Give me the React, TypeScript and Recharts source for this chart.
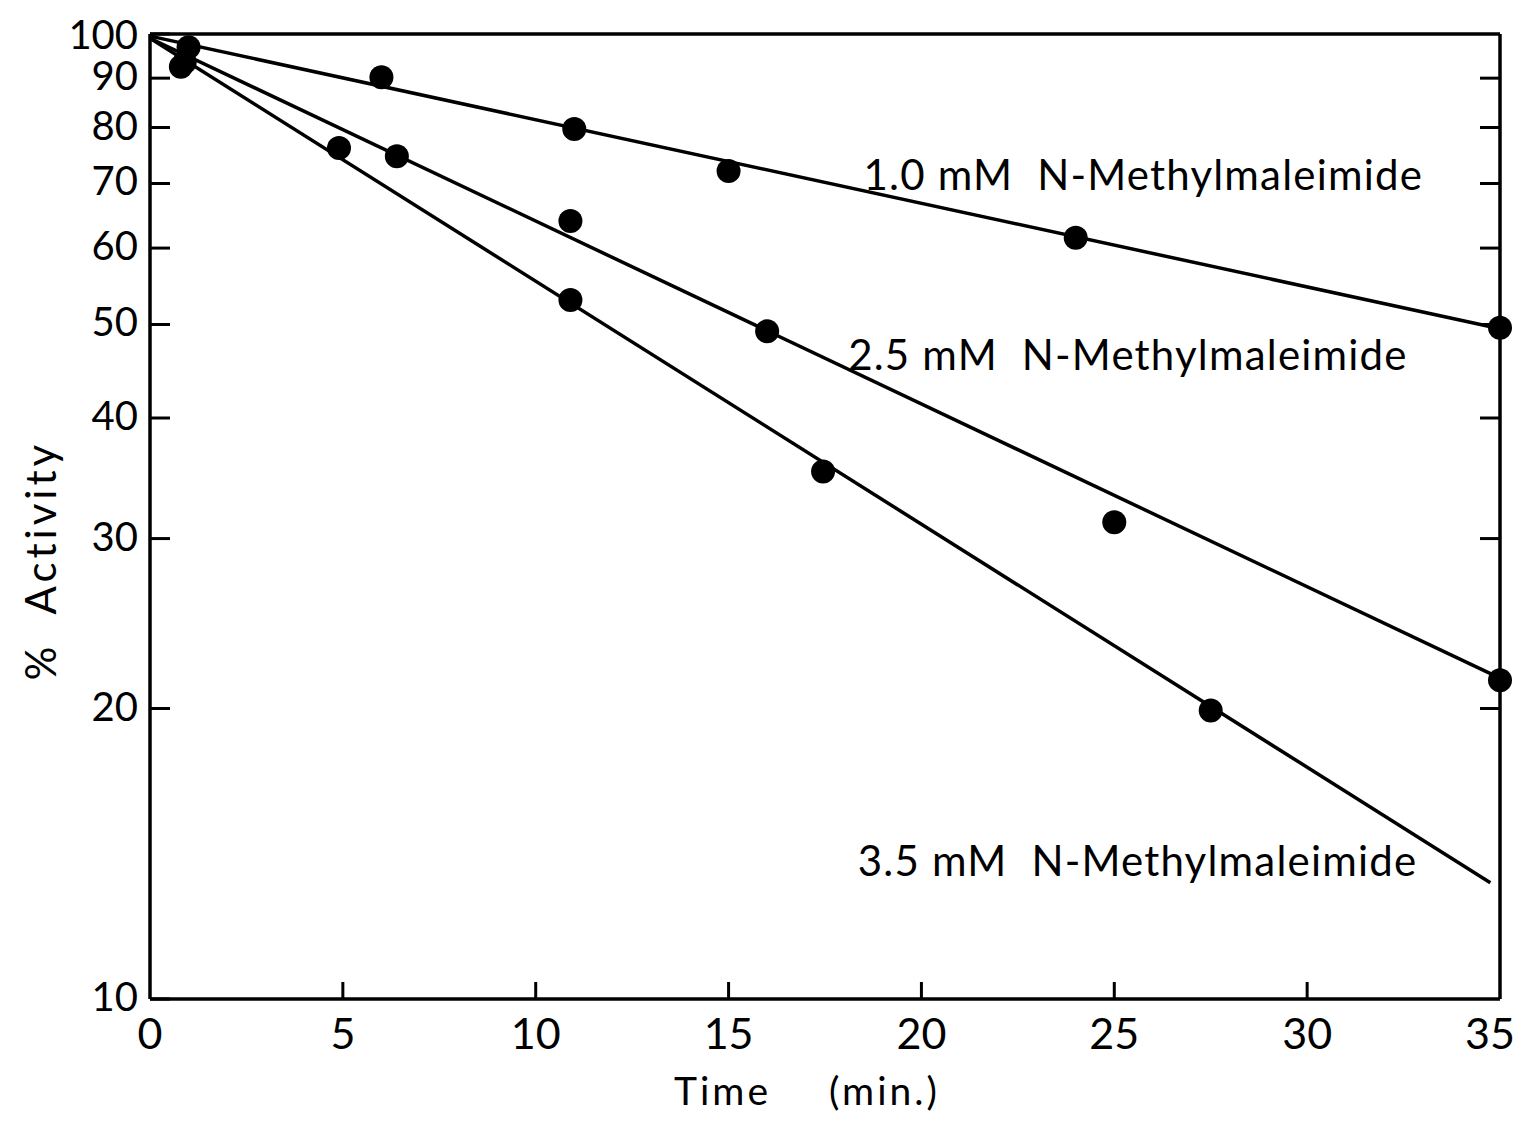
import {
  ComposedChart,
  Line,
  Scatter,
  XAxis,
  YAxis,
  ReferenceDot,
} from "recharts";

// measured points (time in min, % activity)
const t10 = [1, 6, 11, 15, 24, 35];
const a10 = [96.9, 90.2, 79.7, 72.1, 61.5, 49.6];

const t25 = [0.9, 6.4, 10.9, 16, 25, 35];
const a25 = [93.5, 74.7, 64.0, 49.2, 31.2, 21.4];

const t35 = [0.8, 4.9, 10.9, 17.45, 27.5];
const a35 = [92.5, 76.2, 53.0, 35.2, 19.9];

// fitted lines (end points)
const fit10 = [{ t: 0, a: 99.5 }, { t: 35, a: 49.5 }];
const fit25 = [{ t: 0, a: 99 }, { t: 35, a: 21.5 }];
const fit35 = [{ t: 0, a: 99 }, { t: 34.75, a: 13.2 }];

const xTicks = [0, 5, 10, 15, 20, 25, 30, 35];
const yTicks = [10, 20, 30, 40, 50, 60, 70, 80, 90, 100];
const innerX = [5, 10, 15, 20, 25, 30];
const innerY = [20, 30, 40, 50, 60, 70, 80, 90];

const labels = [
  { t: 18.5, a: 71.4, text: "1.0 mM\u00a0 N-Methylmaleimide" },
  { t: 18.1, a: 46.5, text: "2.5 mM\u00a0 N-Methylmaleimide" },
  { t: 18.35, a: 13.9, text: "3.5 mM\u00a0 N-Methylmaleimide" },
];

const toPts = (ts: number[], as: number[]) => ts.map((t, i) => ({ t, a: as[i] }));

const FONT = "Lato, 'DejaVu Sans', sans-serif";
const INK = "#000";

const Dot = (props: any) => <circle cx={props.cx} cy={props.cy} r={12} fill={INK} />;

const LeftTick = ({ x, y, payload }: any) => (
  <g>
    <line x1={x} x2={x + 20} y1={y} y2={y} stroke={INK} strokeWidth={3} />
    <text
      x={x - 12}
      y={y}
      dy={payload.value === 100 ? 0 : -3}
      textAnchor="end"
      dominantBaseline="central"
      fontSize={40}
      fontFamily={FONT}
      fill={INK}
    >
      {payload.value}
    </text>
  </g>
);

const RightTick = ({ x, y }: any) => (
  <line x1={x} x2={x - 20} y1={y} y2={y} stroke={INK} strokeWidth={3} />
);

const BottomTick = ({ x, y, payload }: any) => {
  const last = payload.value === 35;
  return (
    <g>
      {payload.value > 0 && !last && (
        <line x1={x} x2={x} y1={y} y2={y - 17} stroke={INK} strokeWidth={3} />
      )}
      <text
        x={last ? x + 15 : x}
        y={y + 33}
        textAnchor={last ? "end" : "middle"}
        dominantBaseline="central"
        fontSize={43}
        fontFamily={FONT}
        fill={INK}
      >
        {payload.value}
      </text>
    </g>
  );
};

const TopTick = ({ x, y }: any) => (
  <line x1={x} x2={x} y1={y} y2={y + 17} stroke={INK} strokeWidth={3} />
);

const YTitle = ({ viewBox }: any) => {
  const cx = viewBox.x + 32;
  const cy = viewBox.y + viewBox.height / 2 + 44;
  return (
    <text
      x={cx}
      y={cy}
      transform={`rotate(-90 ${cx} ${cy})`}
      textAnchor="middle"
      dominantBaseline="central"
      fontSize={42}
      letterSpacing={4}
      fontFamily={FONT}
      fill={INK}
    >
      %&nbsp; Activity
    </text>
  );
};

const XTitle = ({ viewBox }: any) => (
  <text
    x={viewBox.x + viewBox.width / 2 - 18}
    y={viewBox.y + 91}
    textAnchor="middle"
    dominantBaseline="central"
    fontSize={39}
    letterSpacing={3}
    fontFamily={FONT}
    fill={INK}
  >
    Time<tspan dx={58}>(min.)</tspan>
  </text>
);

export default function App() {
  return (
    <div style={{ width: 1508, height: 1105, background: "#fff" }}>
      <ComposedChart width={1508} height={1105} margin={{ top: 26, right: 16, bottom: 0, left: 0 }}>
        <XAxis
          dataKey="t"
          type="number"
          domain={[0, 35]}
          ticks={xTicks}
          tickSize={0}
          tickMargin={0}
          tickLine={false}
          height={114}
          axisLine={{ stroke: INK, strokeWidth: 3.5 }}
          tick={<BottomTick />}
          label={{ content: <XTitle /> }}
        />
        <XAxis
          xAxisId="top"
          orientation="top"
          mirror
          type="number"
          domain={[0, 35]}
          ticks={innerX}
          tickSize={0}
          tickMargin={0}
          tickLine={false}
          axisLine={{ stroke: INK, strokeWidth: 3.5 }}
          tick={<TopTick />}
        />
        <YAxis
          dataKey="a"
          type="number"
          scale="log"
          domain={[10, 100]}
          allowDataOverflow
          ticks={yTicks}
          tickSize={0}
          tickMargin={0}
          tickLine={false}
          width={142}
          axisLine={{ stroke: INK, strokeWidth: 3.5 }}
          tick={<LeftTick />}
          label={{ content: <YTitle /> }}
        />
        <YAxis
          yAxisId="right"
          orientation="right"
          mirror
          type="number"
          scale="log"
          domain={[10, 100]}
          allowDataOverflow
          ticks={innerY}
          tickSize={0}
          tickMargin={0}
          tickLine={false}
          axisLine={{ stroke: INK, strokeWidth: 3.5 }}
          tick={<RightTick />}
        />

        <Line data={fit10} dataKey="a" type="linear" stroke={INK} strokeWidth={3.5} dot={false} isAnimationActive={false} />
        <Line data={fit25} dataKey="a" type="linear" stroke={INK} strokeWidth={3.5} dot={false} isAnimationActive={false} />
        <Line data={fit35} dataKey="a" type="linear" stroke={INK} strokeWidth={3.5} dot={false} isAnimationActive={false} />

        <Scatter data={toPts(t10, a10)} dataKey="a" shape={<Dot />} isAnimationActive={false} />
        <Scatter data={toPts(t25, a25)} dataKey="a" shape={<Dot />} isAnimationActive={false} />
        <Scatter data={toPts(t35, a35)} dataKey="a" shape={<Dot />} isAnimationActive={false} />

        {labels.map((l) => (
          <ReferenceDot
            key={l.text}
            x={l.t}
            y={l.a}
            r={0}
            stroke="none"
            fill="none"
            label={{ value: l.text, position: "right", offset: 0, fontSize: 42, letterSpacing: 1.2, fontFamily: FONT, fill: INK }}
          />
        ))}
      </ComposedChart>
    </div>
  );
}
